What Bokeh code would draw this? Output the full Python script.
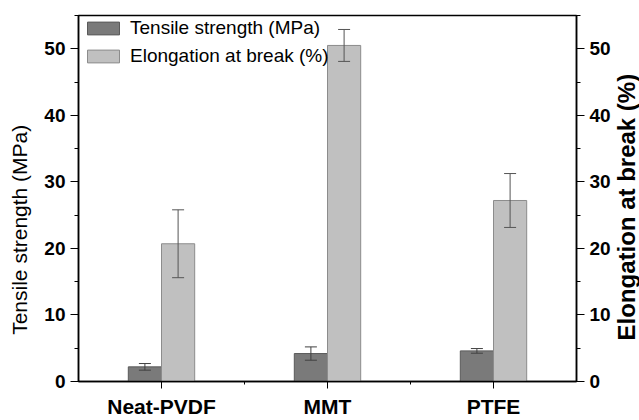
import math
from bokeh.plotting import figure
from bokeh.layouts import row
from bokeh.models import (ColumnDataSource, Range1d, LinearAxis, FixedTicker,
                          SingleIntervalTicker, Whisker, TeeHead, Legend, LegendItem)
from bokeh.core.properties import value
from bokeh.embed import file_html
from bokeh.resources import INLINE

categories = ["Neat-PVDF", "MMT", "PTFE"]
tensile = [2.2, 4.2, 4.6]
tensile_err = [0.5, 1.0, 0.35]
elongation = [20.7, 50.5, 27.2]
elongation_err = [5.1, 2.4, 4.05]
left_title = "Tensile strength (MPa)"
right_title = "Elongation at break (%)"

pos = list(range(1, len(categories) + 1))
bw = 0.2
YMAX = 55

src_t = ColumnDataSource(dict(
    x=[p - bw / 2 for p in pos], top=tensile,
    upper=[v + e for v, e in zip(tensile, tensile_err)],
    lower=[v - e for v, e in zip(tensile, tensile_err)]))
src_e = ColumnDataSource(dict(
    x=[p + bw / 2 for p in pos], top=elongation,
    upper=[v + e for v, e in zip(elongation, elongation_err)],
    lower=[v - e for v, e in zip(elongation, elongation_err)]))

FONT = "Liberation Sans"
TOP, BOTTOM = 15, 37
LW, RW = 32, 26
PW = 639 - LW - RW

p = figure(width=PW, height=420, output_backend="svg", toolbar_location=None,
           x_range=Range1d(0.5, len(categories) + 0.5), y_range=Range1d(0, YMAX),
           min_border_left=78 - LW, min_border_right=LW + PW - 578,
           min_border_top=TOP, min_border_bottom=BOTTOM)
p.extra_y_ranges = {"right": Range1d(0, YMAX)}

p.xgrid.visible = False
p.ygrid.visible = False
p.outline_line_color = "black"
p.outline_line_width = 1.5
p.background_fill_color = "white"
p.border_fill_color = "white"

r_t = p.vbar(x="x", top="top", width=bw, source=src_t, fill_color="#7a7a7a",
             line_color="#5a5a5a", line_width=1)
r_e = p.vbar(x="x", top="top", width=bw, source=src_e, fill_color="#c0c0c0",
             line_color="#8c8c8c", line_width=1, y_range_name="right")

for src, yr, col in ((src_t, "default", "#404040"), (src_e, "right", "#555555")):
    w = Whisker(base="x", upper="upper", lower="lower", source=src,
                line_color=col, line_width=1, level="annotation",
                upper_head=TeeHead(size=12, line_color=col, line_width=1),
                lower_head=TeeHead(size=12, line_color=col, line_width=1))
    if yr == "right":
        w.y_range_name = "right"
    p.add_layout(w)

# x axis
xa = p.xaxis[0]
xa.ticker = FixedTicker(ticks=pos, minor_ticks=[q + 0.5 for q in pos[:-1]])
xa.major_label_overrides = {q: c for q, c in zip(pos, categories)}
xa.major_label_text_font = FONT
xa.major_label_text_font_style = "bold"
xa.major_label_text_font_size = "21px"
xa.major_label_text_color = "black"
xa.major_label_standoff = 6
xa.major_tick_out = 7
xa.major_tick_in = 0
xa.minor_tick_out = 3
xa.minor_tick_in = 0
xa.axis_line_width = 1.5


def style_y(ax):
    ax.ticker = SingleIntervalTicker(interval=10, num_minor_ticks=2)
    ax.major_label_text_font = FONT
    ax.major_label_text_font_style = "bold"
    ax.major_label_text_font_size = "19px"
    ax.major_label_text_color = "black"
    ax.major_label_standoff = 5
    ax.major_tick_out = 8
    ax.major_tick_in = 0
    ax.minor_tick_out = 4
    ax.minor_tick_in = 0
    ax.axis_line_width = 1.5


style_y(p.yaxis[0])
ra = LinearAxis(y_range_name="right")
style_y(ra)
p.add_layout(ra, "right")

legend = Legend(items=[LegendItem(label="Tensile strength (MPa)", renderers=[r_t]),
                       LegendItem(label="Elongation at break (%)", renderers=[r_e])],
                location=(5, 314), glyph_width=40, glyph_height=16, label_height=16,
                spacing=6, padding=3, margin=0, label_standoff=7,
                label_text_font=FONT, label_text_font_size="19px",
                label_text_color="black", border_line_color=None,
                background_fill_alpha=0)
p.add_layout(legend)


def title_panel(width, text, xc, yc, size, style):
    f = figure(width=width, height=420, output_backend="svg", toolbar_location=None,
               x_range=Range1d(0, width), y_range=Range1d(0, YMAX),
               x_axis_type=None, y_axis_type=None,
               min_border_left=0, min_border_right=0,
               min_border_top=TOP, min_border_bottom=BOTTOM)
    f.grid.visible = False
    f.outline_line_color = None
    f.border_fill_color = "white"
    f.background_fill_color = "white"
    f.text(x=[xc], y=[yc], text=[text], angle=math.pi / 2,
           text_align="center", text_baseline="middle",
           text_font=value(FONT), text_font_size=size, text_font_style=style,
           text_color="black")
    return f


lp = title_panel(LW, left_title, 19, 22.8, "21px", "normal")
rp = title_panel(RW, right_title, 13, 26.2, "24px", "bold")

layout = row(lp, p, rp, spacing=0)
open("out.html", "w").write(file_html(layout, INLINE))
